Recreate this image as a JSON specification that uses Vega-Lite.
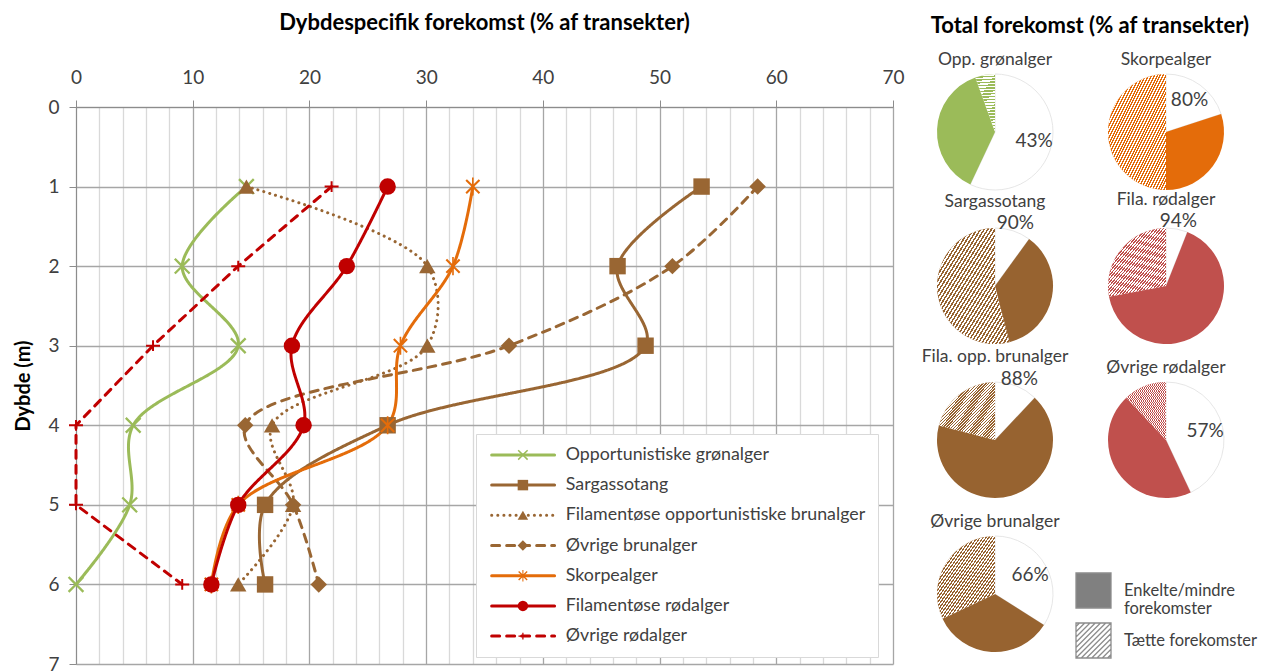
{
"$schema": "https://vega.github.io/schema/vega-lite/v6.json",
"background": "white",
"padding": {"left": 13, "top": 11, "right": 5, "bottom": 0},
"config": {"font": "Lato", "view": {"stroke": null}},
"resolve": {"scale": {"color": "independent", "fill": "independent", "stroke": "independent", "shape": "independent", "strokeDash": "independent"}},
"spacing": 16,
"hconcat": [
{"vconcat": [
{
"width": 817, "height": 1,
"title": {"text": "Dybdespecifik forekomst (% af transekter)", "fontSize": 22, "fontWeight": "bold", "font": "Lato", "color": "#000000", "anchor": "middle", "offset": 37},
"data": {"values": [{"dummy": 0}]},
"mark": {"type": "point", "opacity": 0},
"encoding": {}
},
{
"width": 817, "height": 557,
"data": {"values": [
{"series":"Opportunistiske grønalger","depth":1,"value":14.6},
{"series":"Opportunistiske grønalger","depth":2,"value":9.1},
{"series":"Opportunistiske grønalger","depth":3,"value":13.9},
{"series":"Opportunistiske grønalger","depth":4,"value":4.9},
{"series":"Opportunistiske grønalger","depth":5,"value":4.6},
{"series":"Opportunistiske grønalger","depth":6,"value":0},
{"series":"Sargassotang","depth":1,"value":53.6},
{"series":"Sargassotang","depth":2,"value":46.4},
{"series":"Sargassotang","depth":3,"value":48.8},
{"series":"Sargassotang","depth":4,"value":26.7},
{"series":"Sargassotang","depth":5,"value":16.2},
{"series":"Sargassotang","depth":6,"value":16.2},
{"series":"Filamentøse opportunistiske brunalger","depth":1,"value":14.6},
{"series":"Filamentøse opportunistiske brunalger","depth":2,"value":30.1},
{"series":"Filamentøse opportunistiske brunalger","depth":3,"value":30.1},
{"series":"Filamentøse opportunistiske brunalger","depth":4,"value":16.8},
{"series":"Filamentøse opportunistiske brunalger","depth":5,"value":18.6},
{"series":"Filamentøse opportunistiske brunalger","depth":6,"value":13.9},
{"series":"Øvrige brunalger","depth":1,"value":58.4},
{"series":"Øvrige brunalger","depth":2,"value":51.1},
{"series":"Øvrige brunalger","depth":3,"value":37.1},
{"series":"Øvrige brunalger","depth":4,"value":14.5},
{"series":"Øvrige brunalger","depth":5,"value":18.6},
{"series":"Øvrige brunalger","depth":6,"value":20.8},
{"series":"Skorpealger","depth":1,"value":34.0},
{"series":"Skorpealger","depth":2,"value":32.3},
{"series":"Skorpealger","depth":3,"value":27.8},
{"series":"Skorpealger","depth":4,"value":26.7},
{"series":"Skorpealger","depth":5,"value":13.9},
{"series":"Skorpealger","depth":6,"value":11.6},
{"series":"Filamentøse rødalger","depth":1,"value":26.7},
{"series":"Filamentøse rødalger","depth":2,"value":23.2},
{"series":"Filamentøse rødalger","depth":3,"value":18.5},
{"series":"Filamentøse rødalger","depth":4,"value":19.5},
{"series":"Filamentøse rødalger","depth":5,"value":13.9},
{"series":"Filamentøse rødalger","depth":6,"value":11.6},
{"series":"Øvrige rødalger","depth":1,"value":21.9},
{"series":"Øvrige rødalger","depth":2,"value":13.9},
{"series":"Øvrige rødalger","depth":3,"value":6.6},
{"series":"Øvrige rødalger","depth":4,"value":0},
{"series":"Øvrige rødalger","depth":5,"value":0},
{"series":"Øvrige rødalger","depth":6,"value":9.1}
]},
"encoding": {
  "x": {"field": "value", "type": "quantitative",
    "scale": {"domain": [0, 70], "nice": false, "zero": true},
    "axis": {"orient": "top", "values": [0,2,4,6,8,10,12,14,16,18,20,22,24,26,28,30,32,34,36,38,40,42,44,46,48,50,52,54,56,58,60,62,64,66,68,70],
      "labelExpr": "datum.value % 10 === 0 ? datum.label : ''",
      "gridColor": {"condition": {"test": "datum.value % 10 === 0", "value": "#a6a6a6"}, "value": "#d9d9d9"},
      "tickOpacity": {"condition": {"test": "datum.value % 10 === 0", "value": 1}, "value": 0},
      "title": null,
      "labelFontSize": 19, "labelColor": "#404040", "labelPadding": 13, "labelFlush": false,
      "tickSize": 7, "tickColor": "#8c8c8c", "domainColor": "#8c8c8c", "gridWidth": 1.3}},
  "y": {"field": "depth", "type": "quantitative",
    "scale": {"domain": [0, 7], "nice": false, "reverse": true},
    "axis": {"values": [0,1,2,3,4,5,6,7], "title": "Dybde (m)", "titleFontSize": 20, "titleFontWeight": "bold", "titleColor": "#000000", "titlePadding": 14,
      "labelFontSize": 19, "labelColor": "#404040", "labelPadding": 10, "labelFlush": false,
      "tickSize": 7, "tickColor": "#8c8c8c", "domainColor": "#8c8c8c", "gridColor": "#a6a6a6", "gridWidth": 1.3}}
},
"layer": [
  {"transform": [{"filter": "datum.series !== 'Øvrige rødalger'"}],
   "mark": {"type": "line", "interpolate": "catmull-rom", "strokeWidth": 3, "strokeCap": "round"},
   "encoding": {
     "color": {"field": "series", "type": "nominal",
       "scale": {"domain": ["Opportunistiske grønalger","Sargassotang","Filamentøse opportunistiske brunalger","Øvrige brunalger","Skorpealger","Filamentøse rødalger","Øvrige rødalger"],
                 "range": ["#9BBB59","#996633","#996633","#996633","#E46C0A","#C00000","#C00000"]},
       "legend": {"orient": "none", "legendX": 400, "legendY": 327, "title": null, "symbolType": "M-1,0L11,0", "symbolSize": 110, "symbolStrokeWidth": 3,
         "labelFontSize": 17.8, "labelColor": "#404040", "labelFont": "Lato", "rowPadding": 11.2, "padding": 12, "fillColor": "white", "strokeColor": "#d9d9d9",
         "labelOffset": 60, "labelLimit": 400,
         "encode": {"symbols": {"update": {"strokeCap": {"value": "round"}}}}}},
     "strokeDash": {"field": "series", "type": "nominal",
       "scale": {"domain": ["Opportunistiske grønalger","Sargassotang","Filamentøse opportunistiske brunalger","Øvrige brunalger","Skorpealger","Filamentøse rødalger","Øvrige rødalger"],
                 "range": [[1,0],[1,0],[0.1,6],[8,7],[1,0],[1,0],[8,7]]},
       "legend": {"orient": "none", "legendX": 400, "legendY": 327, "title": null}},
     "order": {"field": "depth", "type": "quantitative"}
   }},
  {"transform": [{"filter": "datum.series === 'Øvrige rødalger'"}],
   "mark": {"type": "line", "interpolate": "linear", "strokeWidth": 3, "strokeCap": "round"},
   "encoding": {
     "color": {"field": "series", "type": "nominal",
       "scale": {"domain": ["Opportunistiske grønalger","Sargassotang","Filamentøse opportunistiske brunalger","Øvrige brunalger","Skorpealger","Filamentøse rødalger","Øvrige rødalger"],
                 "range": ["#9BBB59","#996633","#996633","#996633","#E46C0A","#C00000","#C00000"]}},
     "strokeDash": {"field": "series", "type": "nominal",
       "scale": {"domain": ["Opportunistiske grønalger","Sargassotang","Filamentøse opportunistiske brunalger","Øvrige brunalger","Skorpealger","Filamentøse rødalger","Øvrige rødalger"],
                 "range": [[1,0],[1,0],[0.1,6],[8,7],[1,0],[1,0],[8,7]]}},
     "order": {"field": "depth", "type": "quantitative"}
   }},
  {"mark": {"type": "point", "filled": true, "size": 270, "opacity": 1, "strokeWidth": 0},
   "encoding": {
     "fill": {"field": "series", "type": "nominal", "sort": null,
       "scale": {"range": ["#9BBB59","#996633","#996633","#996633","#E46C0A","#C00000","#C00000"]},
       "legend": {"orient": "none", "legendX": 426, "legendY": 327, "title": null, "symbolSize": 110, "labelFontSize": 17.8, "labelFont": "Lato", "labelOpacity": 0,
         "rowPadding": 11.2, "padding": 12, "labelOffset": 60, "labelLimit": 400, "symbolStrokeWidth": 0}},
     "shape": {"field": "series", "type": "nominal", "sort": null,
       "scale": {"range": [
         "M-1,-0.8L-0.8,-1L0,-0.2L0.8,-1L1,-0.8L0.2,0L1,0.8L0.8,1L0,0.2L-0.8,1L-1,0.8L-0.2,0Z",
         "square", "triangle-up", "diamond",
         "M-0.9,-0.72L-0.72,-0.9L0,-0.18L0.72,-0.9L0.9,-0.72L0.18,0L0.9,0.72L0.72,0.9L0,0.18L-0.72,0.9L-0.9,0.72L-0.18,0ZM-0.1,-1.1L0.1,-1.1L0.1,1.1L-0.1,1.1Z",
         "circle",
         "M-0.85,-0.12L-0.12,-0.12L-0.12,-0.65L0.12,-0.65L0.12,-0.12L0.85,-0.12L0.85,0.12L0.12,0.12L0.12,0.65L-0.12,0.65L-0.12,0.12L-0.85,0.12Z"]},
       "legend": {"orient": "none", "legendX": 426, "legendY": 327, "title": null}}
   }}
]
}
],
"spacing": -10,
"resolve": {"scale": {"color": "independent", "fill": "independent", "stroke": "independent", "shape": "independent", "strokeDash": "independent"}}
},
{
"title": {"text": "Total forekomst (% af transekter)", "fontSize": 22, "fontWeight": "bold", "font": "Lato", "color": "#000000", "anchor": "middle", "offset": 13},
"data": {"values": [
{"art":"Opp. grønalger","type":"Andel uden fund","value":57,"label":"43%"},
{"art":"Opp. grønalger","type":"Enkelte/mindre forekomster","value":37.5},
{"art":"Opp. grønalger","type":"Tætte forekomster","value":5.5},
{"art":"Skorpealger","type":"Andel uden fund","value":20,"label":"80%"},
{"art":"Skorpealger","type":"Enkelte/mindre forekomster","value":30},
{"art":"Skorpealger","type":"Tætte forekomster","value":50},
{"art":"Sargassotang","type":"Andel uden fund","value":10,"label":"90%"},
{"art":"Sargassotang","type":"Enkelte/mindre forekomster","value":36},
{"art":"Sargassotang","type":"Tætte forekomster","value":54},
{"art":"Fila. rødalger","type":"Andel uden fund","value":6,"label":"94%"},
{"art":"Fila. rødalger","type":"Enkelte/mindre forekomster","value":66},
{"art":"Fila. rødalger","type":"Tætte forekomster","value":28},
{"art":"Fila. opp. brunalger","type":"Andel uden fund","value":12,"label":"88%"},
{"art":"Fila. opp. brunalger","type":"Enkelte/mindre forekomster","value":67},
{"art":"Fila. opp. brunalger","type":"Tætte forekomster","value":21},
{"art":"Øvrige rødalger","type":"Andel uden fund","value":43,"label":"57%"},
{"art":"Øvrige rødalger","type":"Enkelte/mindre forekomster","value":45},
{"art":"Øvrige rødalger","type":"Tætte forekomster","value":12},
{"art":"Øvrige brunalger","type":"Andel uden fund","value":34,"label":"66%"},
{"art":"Øvrige brunalger","type":"Enkelte/mindre forekomster","value":34},
{"art":"Øvrige brunalger","type":"Tætte forekomster","value":32}
]},
"facet": {"field": "art", "type": "nominal",
  "sort": ["Opp. grønalger","Skorpealger","Sargassotang","Fila. rødalger","Fila. opp. brunalger","Øvrige rødalger","Øvrige brunalger"],
  "header": {"title": null, "labelFontSize": 17.5, "labelColor": "#404040", "labelFont": "Lato", "labelPadding": 4}},
"columns": 2,
"bounds": "flush",
"spacing": {"row": 38, "column": 55},
"spec": {
  "width": 116, "height": 116,
  "layer": [
    {"mark": {"type": "arc", "outerRadius": 58, "strokeWidth": 0.8},
     "encoding": {
       "theta": {"field": "value", "type": "quantitative", "stack": true, "scale": {"domain": [0, 100]}},
       "order": {"field": "type", "type": "nominal", "sort": "ascending"},
       "color": {"condition": {"test": "datum.type === 'Andel uden fund'", "value": "#ffffff"}, "field": "art", "type": "nominal",
         "scale": {"domain": ["Opp. grønalger","Skorpealger","Sargassotang","Fila. rødalger","Fila. opp. brunalger","Øvrige rødalger","Øvrige brunalger"],
                   "range": ["#9BBB59","#E46C0A","#976330","#C0504D","#976330","#C0504D","#976330"]}, "legend": null},
       "stroke": {"condition": {"test": "datum.type === 'Andel uden fund'", "value": "#e0e0e0"}, "value": null}
     }},
    {"mark": {"type": "arc", "outerRadius": 58},
     "encoding": {
       "theta": {"field": "value", "type": "quantitative", "stack": true, "scale": {"domain": [0, 100]}},
       "order": {"field": "type", "type": "nominal", "sort": "ascending"},
       "fill": {"condition": {"test": "datum.type === 'Tætte forekomster'", "value": {"gradient": "linear", "x1": 0, "y1": 0, "x2": 1, "y2": 1, "stops": [
{"offset":0,"color":"rgba(255,255,255,0)"},{"offset":0.0125,"color":"rgba(255,255,255,0)"},{"offset":0.0125,"color":"#ffffff"},{"offset":0.025,"color":"#ffffff"},
{"offset":0.025,"color":"rgba(255,255,255,0)"},{"offset":0.0375,"color":"rgba(255,255,255,0)"},{"offset":0.0375,"color":"#ffffff"},{"offset":0.05,"color":"#ffffff"},
{"offset":0.05,"color":"rgba(255,255,255,0)"},{"offset":0.0625,"color":"rgba(255,255,255,0)"},{"offset":0.0625,"color":"#ffffff"},{"offset":0.075,"color":"#ffffff"},
{"offset":0.075,"color":"rgba(255,255,255,0)"},{"offset":0.0875,"color":"rgba(255,255,255,0)"},{"offset":0.0875,"color":"#ffffff"},{"offset":0.1,"color":"#ffffff"},
{"offset":0.1,"color":"rgba(255,255,255,0)"},{"offset":0.1125,"color":"rgba(255,255,255,0)"},{"offset":0.1125,"color":"#ffffff"},{"offset":0.125,"color":"#ffffff"},
{"offset":0.125,"color":"rgba(255,255,255,0)"},{"offset":0.1375,"color":"rgba(255,255,255,0)"},{"offset":0.1375,"color":"#ffffff"},{"offset":0.15,"color":"#ffffff"},
{"offset":0.15,"color":"rgba(255,255,255,0)"},{"offset":0.1625,"color":"rgba(255,255,255,0)"},{"offset":0.1625,"color":"#ffffff"},{"offset":0.175,"color":"#ffffff"},
{"offset":0.175,"color":"rgba(255,255,255,0)"},{"offset":0.1875,"color":"rgba(255,255,255,0)"},{"offset":0.1875,"color":"#ffffff"},{"offset":0.2,"color":"#ffffff"},
{"offset":0.2,"color":"rgba(255,255,255,0)"},{"offset":0.2125,"color":"rgba(255,255,255,0)"},{"offset":0.2125,"color":"#ffffff"},{"offset":0.225,"color":"#ffffff"},
{"offset":0.225,"color":"rgba(255,255,255,0)"},{"offset":0.2375,"color":"rgba(255,255,255,0)"},{"offset":0.2375,"color":"#ffffff"},{"offset":0.25,"color":"#ffffff"},
{"offset":0.25,"color":"rgba(255,255,255,0)"},{"offset":0.2625,"color":"rgba(255,255,255,0)"},{"offset":0.2625,"color":"#ffffff"},{"offset":0.275,"color":"#ffffff"},
{"offset":0.275,"color":"rgba(255,255,255,0)"},{"offset":0.2875,"color":"rgba(255,255,255,0)"},{"offset":0.2875,"color":"#ffffff"},{"offset":0.3,"color":"#ffffff"},
{"offset":0.3,"color":"rgba(255,255,255,0)"},{"offset":0.3125,"color":"rgba(255,255,255,0)"},{"offset":0.3125,"color":"#ffffff"},{"offset":0.325,"color":"#ffffff"},
{"offset":0.325,"color":"rgba(255,255,255,0)"},{"offset":0.3375,"color":"rgba(255,255,255,0)"},{"offset":0.3375,"color":"#ffffff"},{"offset":0.35,"color":"#ffffff"},
{"offset":0.35,"color":"rgba(255,255,255,0)"},{"offset":0.3625,"color":"rgba(255,255,255,0)"},{"offset":0.3625,"color":"#ffffff"},{"offset":0.375,"color":"#ffffff"},
{"offset":0.375,"color":"rgba(255,255,255,0)"},{"offset":0.3875,"color":"rgba(255,255,255,0)"},{"offset":0.3875,"color":"#ffffff"},{"offset":0.4,"color":"#ffffff"},
{"offset":0.4,"color":"rgba(255,255,255,0)"},{"offset":0.4125,"color":"rgba(255,255,255,0)"},{"offset":0.4125,"color":"#ffffff"},{"offset":0.425,"color":"#ffffff"},
{"offset":0.425,"color":"rgba(255,255,255,0)"},{"offset":0.4375,"color":"rgba(255,255,255,0)"},{"offset":0.4375,"color":"#ffffff"},{"offset":0.45,"color":"#ffffff"},
{"offset":0.45,"color":"rgba(255,255,255,0)"},{"offset":0.4625,"color":"rgba(255,255,255,0)"},{"offset":0.4625,"color":"#ffffff"},{"offset":0.475,"color":"#ffffff"},
{"offset":0.475,"color":"rgba(255,255,255,0)"},{"offset":0.4875,"color":"rgba(255,255,255,0)"},{"offset":0.4875,"color":"#ffffff"},{"offset":0.5,"color":"#ffffff"},
{"offset":0.5,"color":"rgba(255,255,255,0)"},{"offset":0.5125,"color":"rgba(255,255,255,0)"},{"offset":0.5125,"color":"#ffffff"},{"offset":0.525,"color":"#ffffff"},
{"offset":0.525,"color":"rgba(255,255,255,0)"},{"offset":0.5375,"color":"rgba(255,255,255,0)"},{"offset":0.5375,"color":"#ffffff"},{"offset":0.55,"color":"#ffffff"},
{"offset":0.55,"color":"rgba(255,255,255,0)"},{"offset":0.5625,"color":"rgba(255,255,255,0)"},{"offset":0.5625,"color":"#ffffff"},{"offset":0.575,"color":"#ffffff"},
{"offset":0.575,"color":"rgba(255,255,255,0)"},{"offset":0.5875,"color":"rgba(255,255,255,0)"},{"offset":0.5875,"color":"#ffffff"},{"offset":0.6,"color":"#ffffff"},
{"offset":0.6,"color":"rgba(255,255,255,0)"},{"offset":0.6125,"color":"rgba(255,255,255,0)"},{"offset":0.6125,"color":"#ffffff"},{"offset":0.625,"color":"#ffffff"},
{"offset":0.625,"color":"rgba(255,255,255,0)"},{"offset":0.6375,"color":"rgba(255,255,255,0)"},{"offset":0.6375,"color":"#ffffff"},{"offset":0.65,"color":"#ffffff"},
{"offset":0.65,"color":"rgba(255,255,255,0)"},{"offset":0.6625,"color":"rgba(255,255,255,0)"},{"offset":0.6625,"color":"#ffffff"},{"offset":0.675,"color":"#ffffff"},
{"offset":0.675,"color":"rgba(255,255,255,0)"},{"offset":0.6875,"color":"rgba(255,255,255,0)"},{"offset":0.6875,"color":"#ffffff"},{"offset":0.7,"color":"#ffffff"},
{"offset":0.7,"color":"rgba(255,255,255,0)"},{"offset":0.7125,"color":"rgba(255,255,255,0)"},{"offset":0.7125,"color":"#ffffff"},{"offset":0.725,"color":"#ffffff"},
{"offset":0.725,"color":"rgba(255,255,255,0)"},{"offset":0.7375,"color":"rgba(255,255,255,0)"},{"offset":0.7375,"color":"#ffffff"},{"offset":0.75,"color":"#ffffff"},
{"offset":0.75,"color":"rgba(255,255,255,0)"},{"offset":0.7625,"color":"rgba(255,255,255,0)"},{"offset":0.7625,"color":"#ffffff"},{"offset":0.775,"color":"#ffffff"},
{"offset":0.775,"color":"rgba(255,255,255,0)"},{"offset":0.7875,"color":"rgba(255,255,255,0)"},{"offset":0.7875,"color":"#ffffff"},{"offset":0.8,"color":"#ffffff"},
{"offset":0.8,"color":"rgba(255,255,255,0)"},{"offset":0.8125,"color":"rgba(255,255,255,0)"},{"offset":0.8125,"color":"#ffffff"},{"offset":0.825,"color":"#ffffff"},
{"offset":0.825,"color":"rgba(255,255,255,0)"},{"offset":0.8375,"color":"rgba(255,255,255,0)"},{"offset":0.8375,"color":"#ffffff"},{"offset":0.85,"color":"#ffffff"},
{"offset":0.85,"color":"rgba(255,255,255,0)"},{"offset":0.8625,"color":"rgba(255,255,255,0)"},{"offset":0.8625,"color":"#ffffff"},{"offset":0.875,"color":"#ffffff"},
{"offset":0.875,"color":"rgba(255,255,255,0)"},{"offset":0.8875,"color":"rgba(255,255,255,0)"},{"offset":0.8875,"color":"#ffffff"},{"offset":0.9,"color":"#ffffff"},
{"offset":0.9,"color":"rgba(255,255,255,0)"},{"offset":0.9125,"color":"rgba(255,255,255,0)"},{"offset":0.9125,"color":"#ffffff"},{"offset":0.925,"color":"#ffffff"},
{"offset":0.925,"color":"rgba(255,255,255,0)"},{"offset":0.9375,"color":"rgba(255,255,255,0)"},{"offset":0.9375,"color":"#ffffff"},{"offset":0.95,"color":"#ffffff"},
{"offset":0.95,"color":"rgba(255,255,255,0)"},{"offset":0.9625,"color":"rgba(255,255,255,0)"},{"offset":0.9625,"color":"#ffffff"},{"offset":0.975,"color":"#ffffff"},
{"offset":0.975,"color":"rgba(255,255,255,0)"},{"offset":0.9875,"color":"rgba(255,255,255,0)"},{"offset":0.9875,"color":"#ffffff"},{"offset":1,"color":"#ffffff"}
]}}, "value": "transparent"}
     }},
    {"transform": [{"filter": "false"}],
     "mark": {"type": "point", "filled": true, "opacity": 1, "stroke": "#8c8c8c", "strokeWidth": 1.3},
     "encoding": {
       "fill": {"field": "type", "type": "nominal",
         "scale": {"domain": ["Enkelte/mindre forekomster","Tætte forekomster","Andel uden fund"], "range": ["#808080", "#ffffff", "#ffffff"]},
         "legend": {"orient": "none", "legendX": 138, "legendY": 498, "title": null, "values": ["Enkelte/mindre forekomster","Tætte forekomster"],
           "symbolSize": 1225, "symbolStrokeColor": "#8c8c8c", "symbolStrokeWidth": 1.3, "symbolOpacity": 1,
           "labelFontSize": 16.5, "labelColor": "#404040", "labelFont": "Lato", "rowPadding": 2, "labelOffset": 12,
           "labelExpr": "datum.label === 'Enkelte/mindre forekomster' ? ['Enkelte/mindre', 'forekomster'] : datum.label"}},
       "shape": {"field": "type", "type": "nominal",
         "scale": {"domain": ["Enkelte/mindre forekomster","Tætte forekomster","Andel uden fund"],
           "range": ["square", "M-1,-1L1,-1L1,1L-1,1ZM-1,-0.8L-0.8,-1M-1,-0.5L-0.5,-1M-1,-0.2L-0.2,-1M-1,0.1L0.1,-1M-1,0.4L0.4,-1M-1,0.7L0.7,-1M-1,1L1,-1M-0.7,1L1,-0.7M-0.4,1L1,-0.4M-0.1,1L1,-0.1M0.2,1L1,0.2M0.5,1L1,0.5M0.8,1L1,0.8", "square"]},
         "legend": {"orient": "none", "legendX": 138, "legendY": 498, "title": null, "values": ["Enkelte/mindre forekomster","Tætte forekomster"]}}
     }},
    {"transform": [{"filter": "datum.type === 'Andel uden fund'"}],
     "mark": {"type": "text", "fontSize": 19, "font": "Lato", "color": "#404040", "radius": {"expr": "datum.value < 15 ? 66 : 40"}},
     "encoding": {
       "theta": {"field": "value", "type": "quantitative", "stack": true, "scale": {"domain": [0, 100]}},
       "text": {"field": "label", "type": "nominal"}
     }}
  ]
}
}
]
}
